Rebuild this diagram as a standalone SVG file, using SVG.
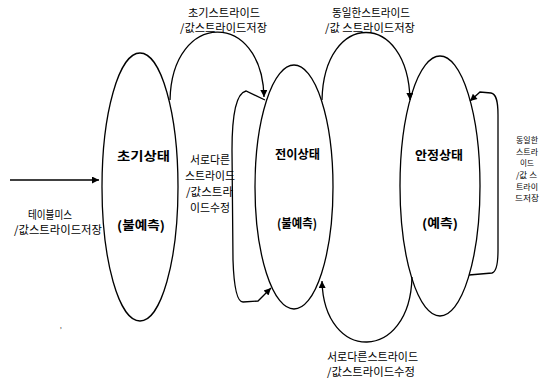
<svg xmlns="http://www.w3.org/2000/svg" width="548" height="383" viewBox="0 0 548 383">
<style>
.s{fill:none;stroke:#000;stroke-width:1.3}
.t{font-family:"Noto Sans CJK KR","Noto Sans",sans-serif;font-size:11px;fill:#000}
.r{font-family:"Noto Sans CJK KR","Noto Sans",sans-serif;font-size:8px;fill:#000}
.b{font-family:"Noto Sans CJK KR","Noto Sans",sans-serif;font-size:12.5px;font-weight:bold;fill:#000}
</style>
<defs>
<marker id="a" viewBox="0 0 10 10" refX="10" refY="5" markerWidth="9" markerHeight="7" markerUnits="userSpaceOnUse" orient="auto">
<path d="M0,0 L10,5 L0,10 z" fill="#000"/>
</marker>
</defs>
<rect width="548" height="383" fill="#fff"/>
<g id="node-initial">
<ellipse class="s" cx="140" cy="187" rx="38" ry="134"/>
<text class="b" x="117" y="161" textLength="53" lengthAdjust="spacingAndGlyphs">초기상태</text>
<text class="b" x="117" y="230" textLength="48" lengthAdjust="spacingAndGlyphs">(불예측)</text>
</g>
<g id="node-transient">
<ellipse class="s" cx="294" cy="187" rx="39" ry="122"/>
<text class="b" x="275" y="159" textLength="45" lengthAdjust="spacingAndGlyphs">전이상태</text>
<text class="b" x="277" y="228" textLength="40" lengthAdjust="spacingAndGlyphs">(불예측)</text>
</g>
<g id="node-steady">
<ellipse class="s" cx="440" cy="186" rx="40" ry="130"/>
<text class="b" x="415" y="160" textLength="48" lengthAdjust="spacingAndGlyphs">안정상태</text>
<text class="b" x="422" y="228" textLength="36" lengthAdjust="spacingAndGlyphs">(예측)</text>
</g>
<g id="connectors">
<path class="s" d="M10,180 L99,180" marker-end="url(#a)"/>
<path class="s" d="M170,100 C172,10 262,10 264,97" marker-end="url(#a)"/>
<path class="s" d="M322,100 C324,10 408,10 410,100" marker-end="url(#a)"/>
<path class="s" d="M412,277 C410,363 324,363 322,281" marker-end="url(#a)"/>
<path class="s" d="M265,100 L246,91 C237,93 232,110 232,150 L233,260 C234,290 238,302 243,302 L258,301 L271,288" marker-end="url(#a)"/>
<path class="s" d="M469,275 L492,273 C496,272 498,265 498,250 L498,115 C498,100 496,94 491,93 L480,92 L470,101" marker-end="url(#a)"/>
</g>
<g id="labels">
<text class="t" x="188" y="17" textLength="72" lengthAdjust="spacingAndGlyphs">초기스트라이드</text>
<text class="t" x="180" y="32" textLength="87" lengthAdjust="spacingAndGlyphs">/값스트라이드저장</text>
<text class="t" x="332" y="17" textLength="78" lengthAdjust="spacingAndGlyphs">동일한스트라이드</text>
<text class="t" x="325" y="32" textLength="90" lengthAdjust="spacingAndGlyphs">/값 스트라이드저장</text>
<text class="t" x="28" y="219" textLength="44" lengthAdjust="spacingAndGlyphs">테이블미스</text>
<text class="t" x="14" y="234" textLength="88" lengthAdjust="spacingAndGlyphs">/값스트라이드저장</text>
<text class="t" x="190" y="164" textLength="40" lengthAdjust="spacingAndGlyphs">서로다른</text>
<text class="t" x="185" y="180" textLength="50" lengthAdjust="spacingAndGlyphs">스트라이드</text>
<text class="t" x="186" y="196" textLength="47" lengthAdjust="spacingAndGlyphs">/값스트라</text>
<text class="t" x="190" y="212" textLength="40" lengthAdjust="spacingAndGlyphs">이드수정</text>
<text class="r" x="516" y="143" textLength="22" lengthAdjust="spacingAndGlyphs">동일한</text>
<text class="r" x="516" y="155" textLength="22" lengthAdjust="spacingAndGlyphs">스트라</text>
<text class="r" x="520" y="166" textLength="14" lengthAdjust="spacingAndGlyphs">이드</text>
<text class="r" x="516" y="178" textLength="21" lengthAdjust="spacingAndGlyphs">/값 스</text>
<text class="r" x="516" y="190" textLength="22" lengthAdjust="spacingAndGlyphs">트라이</text>
<text class="r" x="515" y="201" textLength="24" lengthAdjust="spacingAndGlyphs">드저장</text>
<text class="t" x="327" y="361" textLength="91" lengthAdjust="spacingAndGlyphs">서로다른스트라이드</text>
<text class="t" x="327" y="376" textLength="88" lengthAdjust="spacingAndGlyphs">/값스트라이드수정</text>
<text class="t" x="60" y="328" style="font-size:6px">,</text>
</g>
</svg>
